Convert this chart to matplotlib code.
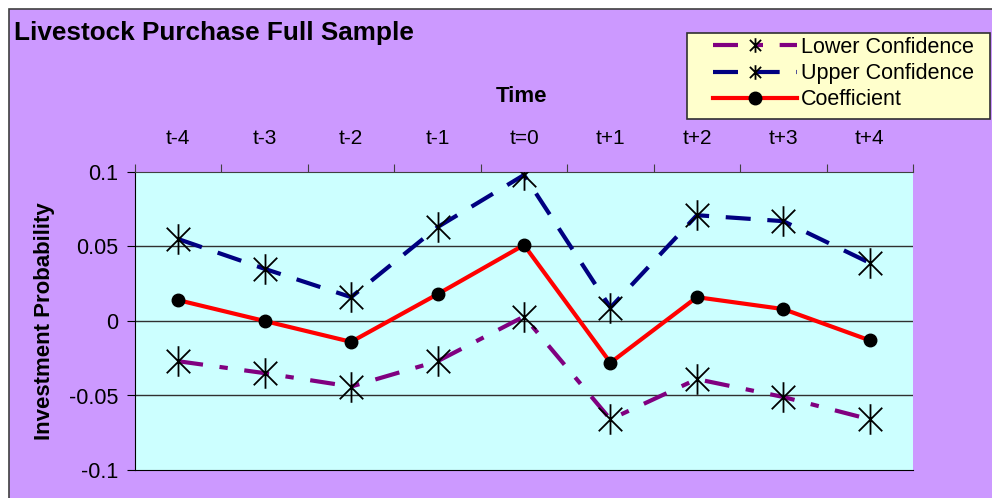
import numpy as np
import matplotlib.pyplot as plt
from matplotlib.path import Path
from matplotlib.patches import Rectangle

plt.rcParams['font.family'] = ['Liberation Sans', 'DejaVu Sans']

periods = ['t-4', 't-3', 't-2', 't-1', 't=0', 't+1', 't+2', 't+3', 't+4']
lower_conf = [-0.027, -0.035, -0.044, -0.027, 0.003, -0.066, -0.039, -0.051, -0.066]
upper_conf = [0.055, 0.035, 0.016, 0.063, 0.098, 0.009, 0.071, 0.067, 0.039]
coefficient = [0.014, 0.0, -0.014, 0.018, 0.051, -0.028, 0.016, 0.008, -0.013]
y_ticks = [-0.1, -0.05, 0, 0.05, 0.1]
y_tick_labels = ['-0.1', '-0.05', '0', '0.05', '0.1']

# excel style asterisk: x plus a vertical bar
star = Path([(-1, -1), (1, 1), (-1, 1), (1, -1), (0, -1.3), (0, 1.3)],
            [Path.MOVETO, Path.LINETO, Path.MOVETO, Path.LINETO, Path.MOVETO, Path.LINETO])

W, H = 992, 498
fig = plt.figure(figsize=(W / 100, H / 100), dpi=100, facecolor='white')
# purple chart area with thin border, white strip above
fig.patches.append(Rectangle((9 / W, -0.01), 1.02, 1 - 9 / H + 0.01, transform=fig.transFigure,
                             facecolor='#CC99FF', edgecolor='#404040', linewidth=1.2, zorder=-2))
# legend box
fig.patches.append(Rectangle((687 / W, 1 - 119 / H), (990 - 687) / W, 86 / H, transform=fig.transFigure,
                             facecolor='#FFFFCC', edgecolor='#303030', linewidth=1.2, zorder=-1))

ax = fig.add_axes([135 / W, 1 - 470 / H, (913 - 135) / W, (470 - 172) / H])
ax.set_facecolor('#CCFFFF')

x = np.arange(len(periods))
ax.plot(x, lower_conf, color='#800080', linewidth=3, dashes=(6, 4, 2, 4),
        marker=star, markersize=22, markeredgecolor='black', markeredgewidth=1.3,
        label='Lower Confidence', zorder=3)
ax.plot(x, upper_conf, color='#000080', linewidth=3, dashes=(6, 4),
        marker=star, markersize=22, markeredgecolor='black', markeredgewidth=1.3,
        label='Upper Confidence', zorder=3)
ax.plot(x, coefficient, color='#FF0000', linewidth=3,
        marker='o', markersize=9, markerfacecolor='black', markeredgecolor='black',
        label='Coefficient', zorder=4)

ax.set_xlim(-0.5, len(periods) - 0.5)
ax.set_ylim(-0.1, 0.1)
ax.set_yticks(y_ticks)
ax.set_yticklabels(y_tick_labels, fontsize=15.5)
for v in [-0.05, 0, 0.05]:
    ax.axhline(v, color='#303030', linewidth=1, zorder=1)

# category axis sits on top, labels centred, ticks between categories
ax.xaxis.tick_top()
ax.set_xticks(np.arange(-0.5, len(periods), 1.0))
ax.set_xticklabels([])
ax.set_xticks(x, minor=True)
ax.set_xticklabels(periods, minor=True, fontsize=15)
ax.tick_params(axis='x', which='minor', length=0, pad=17)
ax.tick_params(axis='x', which='major', length=6, direction='out', color='#404040')
ax.tick_params(axis='y', length=6, direction='out', pad=6)
ax.spines['right'].set_visible(False)
ax.spines['left'].set_color('black')
ax.spines['bottom'].set_color('black')
ax.spines['top'].set_color('#404040')

ax.set_ylabel('Investment Probability', fontsize=16, fontweight='bold', labelpad=10)
fig.text(522 / W, 1 - 97 / H, 'Time', fontsize=16, fontweight='bold', ha='center', va='center')
fig.text(14 / W, 1 - 33 / H, 'Livestock Purchase Full Sample', fontsize=18.8, fontweight='bold',
         ha='left', va='center')

leg = fig.legend(loc='upper left', bbox_to_anchor=(713 / W, 1 - 37 / H), fontsize=15.5,
                 handlelength=3.9, handletextpad=0.2, borderpad=0, labelspacing=0.24,
                 frameon=False, borderaxespad=0)
for h, ms in zip(leg.legend_handles, [10.5, 10.5, 9]):
    h.set_markersize(ms)

fig.savefig('out.png', dpi=100)
